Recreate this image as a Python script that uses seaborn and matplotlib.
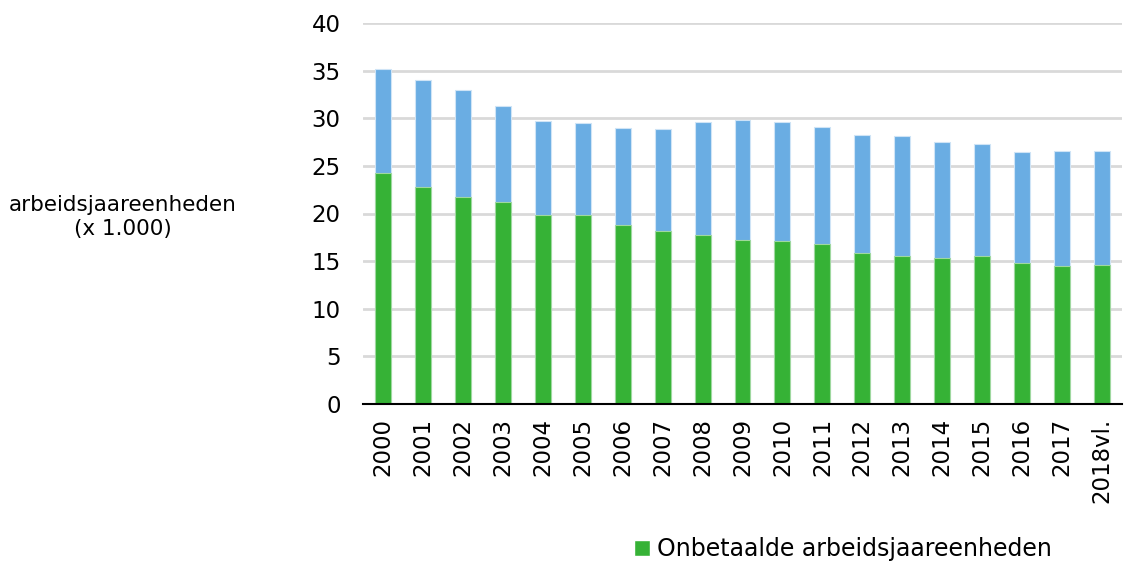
import numpy as np
import pandas as pd
import matplotlib
matplotlib.use("Agg")
import matplotlib.pyplot as plt
import seaborn as sns
from matplotlib.patches import Patch

years = ["2000", "2001", "2002", "2003", "2004", "2005", "2006", "2007", "2008", "2009",
         "2010", "2011", "2012", "2013", "2014", "2015", "2016", "2017", "2018vl."]
onbetaald = [24.2, 22.8, 21.7, 21.2, 19.8, 19.8, 18.8, 18.2, 17.7, 17.2,
             17.1, 16.8, 15.9, 15.5, 15.3, 15.5, 14.8, 14.5, 14.6]
totaal = [35.2, 34.0, 33.0, 31.3, 29.7, 29.5, 29.0, 28.9, 29.6, 29.8,
          29.6, 29.1, 28.2, 28.1, 27.5, 27.3, 26.5, 26.6, 26.6]

df = pd.DataFrame({"jaar": years, "onbetaald": onbetaald, "totaal": totaal})

green = "#36b236"
blue = "#6aade3"

sns.set_style("white")
plt.rcParams["font.family"] = ["DejaVu Sans"]
plt.rcParams["text.color"] = "black"
plt.rcParams["xtick.color"] = "black"
plt.rcParams["ytick.color"] = "black"

fig = plt.figure(figsize=(11.27, 5.65), dpi=100)
ax = fig.add_axes([363 / 1127, 1 - 404 / 565, (1122 - 363) / 1127, (404 - 23) / 565])

sns.barplot(data=df, x="jaar", y="totaal", color=blue, width=0.4, ax=ax,
            saturation=1, edgecolor="#cfe4f6", linewidth=0.8, zorder=2)
sns.barplot(data=df, x="jaar", y="onbetaald", color=green, width=0.4, ax=ax,
            saturation=1, edgecolor="#9fd89f", linewidth=0.8, zorder=3)

ax.set_ylim(0, 40)
ax.set_xlim(-0.5, len(years) - 0.5)
ax.set_yticks(range(0, 41, 5))
ax.yaxis.grid(True, color="#d9d9d9", linewidth=2)
ax.set_axisbelow(True)
for s in ["left", "right", "top"]:
    ax.spines[s].set_visible(False)
ax.spines["bottom"].set_color("black")
ax.spines["bottom"].set_linewidth(1.5)
ax.spines["bottom"].set_zorder(5)

ax.set_xticks(np.arange(len(years)))
ax.set_xticklabels(years, rotation=90, fontsize=16.5)
ax.set_xticks(np.arange(len(years) + 1) - 0.5, minor=True)
ax.tick_params(axis="x", which="major", length=0, pad=10)
ax.tick_params(axis="x", which="minor", length=7, width=1.2, color="black", direction="out")
ax.tick_params(axis="y", length=0, labelsize=16.5, pad=16)
ax.set_xlabel("")
ax.set_ylabel("")

fig.text(123 / 1127, 1 - 217 / 565, "arbeidsjaareenheden\n(x 1.000)", ha="center",
         va="center", fontsize=15.5, linespacing=1.2)

fig.legend(handles=[Patch(facecolor=green, label="Onbetaalde arbeidsjaareenheden")],
           loc="center", bbox_to_anchor=(843 / 1127, 1 - 549 / 565), frameon=False,
           fontsize=17, handlelength=0.65, handleheight=0.65, handletextpad=0.3)

fig.savefig("out.png", dpi=100)
